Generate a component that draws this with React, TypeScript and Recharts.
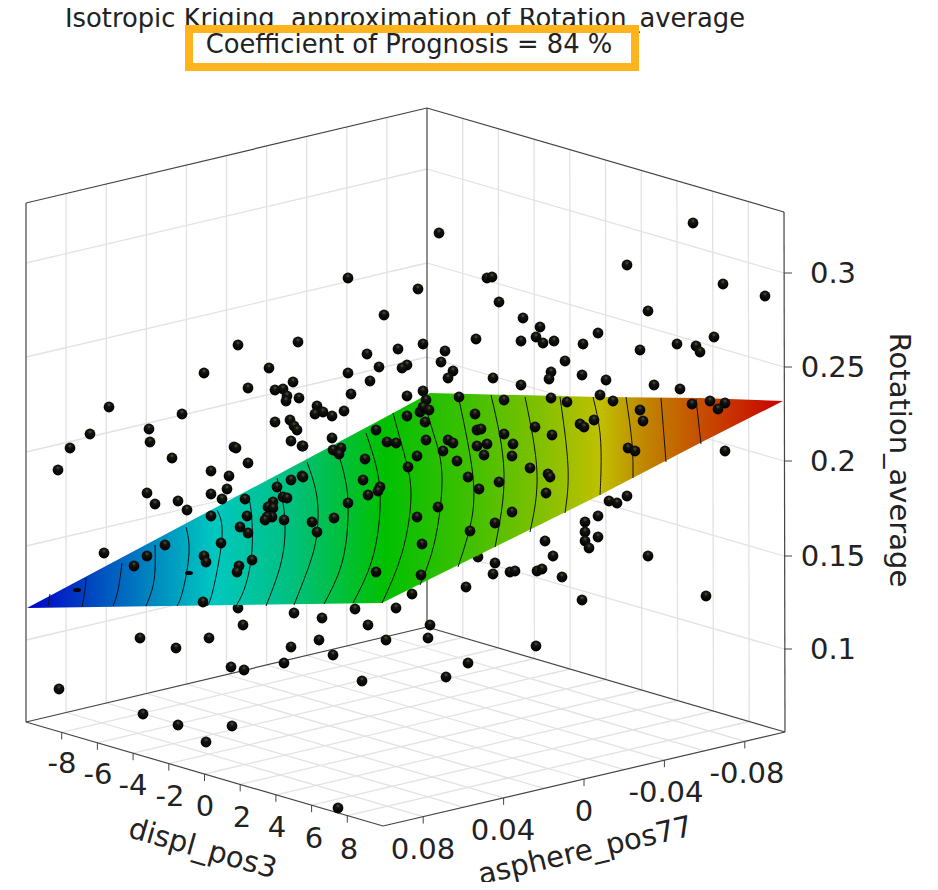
import React from 'react';
import {
  ComposedChart,
  Area,
  Line,
  Scatter,
  XAxis,
  YAxis,
  ReferenceLine,
  ReferenceArea,
} from 'recharts';

type Pt = [number, number];

const displTicks = ['-8', '-6', '-4', '-2', '0', '2', '4', '6', '8'];
const displLabelPos: Pt[] = [[62, 763], [98, 774], [133, 785], [170, 796], [205, 806], [242, 817], [277, 827], [314, 838], [349, 849]];
const asphereTicks = ['0.08', '0.04', '0', '-0.04', '-0.08'];
const asphereLabelPos: Pt[] = [[423, 849], [503, 830], [584, 811], [666, 792], [747, 773]];
const rotationTicks = ['0.3', '0.25', '0.2', '0.15', '0.1'];
const rotationTickY = [273, 367, 461, 556, 649];
const rotationLeftY = [263, 357, 452, 546, 640];
const rotationBackY = [169, 263, 357, 452, 546];

const gridFractions = [0.1, 0.2, 0.3, 0.4, 0.5, 0.6, 0.7, 0.8, 0.9];
const asphereTickFractions = [0.1, 0.3, 0.5, 0.7, 0.9];

// box corners
const leftTop: Pt = [26, 203];
const backTop: Pt = [427, 108];
const rightTop: Pt = [784, 212];
const leftBottom: Pt = [26, 722];
const backBottom: Pt = [427, 627];
const rightBottom: Pt = [785, 732];
const frontBottom: Pt = [383, 826];

const surfaceX = [27, 382, 430, 600, 700, 783];
const surfaceUpper = [608, 419, 393, 397, 398, 401];
const surfaceLower = [608, 603, 579, 495, 443, 401];

const surfaceStopX = [27, 100, 160, 215, 290, 385, 470, 540, 600, 650, 715, 783];
const surfaceStopColor = ['#0000c8', '#0050c0', '#0090c0', '#00c8c0', '#00c080', '#00c000', '#40c000', '#80c000', '#c0c000', '#c08000', '#c84000', '#c80000'];

const contours: Pt[][] = [
  [[48, 606], [50, 594]],
  [[82, 607], [85, 590], [86, 578]],
  [[113, 606], [118, 590], [122, 563]],
  [[146, 606], [152, 590], [155, 570], [155, 545]],
  [[177, 606], [183, 590], [189, 553], [186, 527]],
  [[207, 606], [213, 590], [222, 537], [217, 510]],
  [[236, 606], [245, 587], [252, 550], [251, 510], [248, 498]],
  [[266, 606], [280, 567], [285, 533], [283, 503], [277, 478]],
  [[294, 605], [310, 563], [317, 533], [317, 497], [307, 462]],
  [[324, 604], [342, 563], [348, 517], [346, 483], [338, 452]],
  [[353, 603], [372, 560], [380, 510], [377, 470], [366, 433]],
  [[382, 603], [402, 553], [411, 497], [405, 457], [393, 413]],
  [[420, 585], [435, 540], [442, 477], [434, 435], [422, 395]],
  [[458, 567], [470, 527], [473, 477], [458, 395]],
  [[495, 547], [504, 473], [491, 395]],
  [[530, 532], [537, 473], [525, 397]],
  [[565, 513], [568, 467], [560, 397]],
  [[600, 495], [601, 470], [600, 433], [593, 397]],
  [[633, 478], [632, 443], [626, 397]],
  [[666, 462], [661, 398]],
  [[701, 444], [696, 399]],
];

const pointsBehind: Pt[] = [[238, 608], [478, 557]];
const pointsPeek: Pt[] = [[77, 590], [189, 573]];
const points: Pt[] = [
  [439, 233], [348, 278], [418, 289], [693, 223], [627, 265], [487, 278], [492, 277], [723, 284], [765, 296], [499, 302],
  [238, 345], [298, 342], [204, 373], [269, 368], [248, 388], [293, 382], [275, 390], [283, 389], [287, 396], [286, 401],
  [299, 398], [109, 407], [182, 414], [90, 434], [149, 429], [150, 442], [70, 448], [275, 422], [290, 420], [294, 426],
  [297, 430], [291, 441], [302, 446], [234, 447], [236, 448], [248, 463], [58, 470], [172, 458], [211, 471], [229, 476],
  [147, 493], [155, 504], [178, 501], [187, 510], [211, 494], [227, 489], [222, 499], [211, 516], [245, 499], [247, 516],
  [240, 527], [248, 533], [277, 487], [291, 480], [302, 476], [283, 497], [287, 498], [273, 502], [268, 507], [273, 508],
  [272, 517], [267, 517], [265, 520], [284, 520], [221, 543], [165, 545], [147, 556], [134, 566], [104, 553], [204, 556],
  [206, 562], [252, 560], [239, 566], [237, 572], [203, 602],
  [384, 315], [523, 318], [540, 327], [536, 337], [543, 343], [521, 341], [554, 341], [476, 339], [598, 333], [583, 344],
  [423, 344], [398, 349], [445, 351], [367, 354], [441, 362], [565, 361], [379, 367], [407, 365], [402, 368], [453, 371],
  [448, 378], [348, 373], [551, 372], [549, 379], [582, 375], [493, 378], [370, 381], [521, 385], [351, 394], [423, 391],
  [407, 396], [459, 397], [426, 400], [504, 400], [551, 398], [567, 402], [600, 395], [317, 406], [315, 414], [323, 412],
  [332, 416], [344, 411], [420, 412], [423, 407], [429, 410], [407, 416], [475, 414], [425, 422], [376, 430], [477, 430],
  [481, 429], [535, 427], [504, 434], [552, 435], [580, 424], [584, 427], [594, 420], [332, 438], [303, 446], [387, 442],
  [396, 443], [426, 440], [448, 440], [453, 443], [477, 446], [487, 444], [513, 444], [333, 450], [341, 448], [339, 454],
  [443, 451], [484, 455], [512, 456], [365, 459], [417, 456], [457, 461], [408, 467], [530, 468], [548, 474], [550, 477],
  [303, 477], [363, 480], [468, 477], [499, 482], [380, 487], [378, 491], [368, 495], [479, 489], [546, 493], [348, 503],
  [438, 507], [417, 517], [512, 512], [334, 518], [312, 522], [317, 532], [495, 523], [470, 531], [585, 522], [598, 516],
  [585, 532], [598, 537], [585, 541], [589, 548], [545, 541], [422, 544], [553, 556], [495, 563], [493, 574], [510, 572],
  [515, 571], [537, 571], [542, 569], [562, 577], [376, 572], [421, 575], [466, 587], [412, 594], [582, 600],
  [648, 311], [714, 337], [677, 344], [696, 346], [700, 352], [640, 350], [606, 380], [654, 385], [680, 389], [613, 401],
  [640, 410], [643, 421], [692, 404], [710, 401], [725, 403], [718, 409], [628, 448], [635, 451], [725, 451], [627, 496],
  [609, 501], [617, 503], [648, 556], [706, 596],
  [294, 613], [322, 618], [355, 609], [396, 608], [243, 625], [368, 625], [140, 638], [176, 648], [209, 638], [319, 640],
  [386, 640], [291, 647], [430, 625], [428, 638], [468, 663], [446, 677], [333, 655], [284, 663], [244, 670], [231, 667],
  [362, 681], [59, 689], [143, 714], [178, 725], [232, 726], [206, 742], [338, 808], [536, 646],
];

const FONT = '"DejaVu Sans", sans-serif';
const TEXT = '#222';
const FRAME = '#444';
const GRID = '#e2e2e2';

const lerp = (a: Pt, b: Pt, t: number): Pt => [a[0] + (b[0] - a[0]) * t, a[1] + (b[1] - a[1]) * t];
const toXY = (p: Pt[]) => p.map(([x, y]) => ({ x, y }));

const surfaceData = surfaceX.map((x, i) => ({ x, band: [surfaceUpper[i], surfaceLower[i]] }));

const gridSegments: Pt[][] = [
  ...gridFractions.map((t) => [lerp(leftTop, backTop, t), lerp(leftBottom, backBottom, t)]),
  ...gridFractions.map((t) => [lerp(backTop, rightTop, t), lerp(backBottom, rightBottom, t)]),
  ...gridFractions.map((t) => [lerp(leftBottom, frontBottom, t), lerp(backBottom, rightBottom, t)]),
  ...gridFractions.map((t) => [lerp(leftBottom, backBottom, t), lerp(frontBottom, rightBottom, t)]),
  ...rotationTickY.map((y, i): Pt[] => [[leftTop[0], rotationLeftY[i]], [backTop[0], rotationBackY[i]]]),
  ...rotationTickY.map((y, i): Pt[] => [[backTop[0], rotationBackY[i]], [rightTop[0], y]]),
];

const frameSegments: Pt[][] = [
  [leftTop, leftBottom],
  [leftTop, backTop],
  [backTop, backBottom],
  [backTop, rightTop],
  [rightTop, rightBottom],
  [leftBottom, backBottom],
  [backBottom, rightBottom],
  [leftBottom, frontBottom],
  [frontBottom, rightBottom],
];

const tickSegments: Pt[][] = [
  ...gridFractions.map((t) => {
    const p = lerp(leftBottom, frontBottom, t);
    return [p, [p[0], p[1] + 7] as Pt];
  }),
  ...asphereTickFractions.map((t) => {
    const p = lerp(frontBottom, rightBottom, t);
    return [p, [p[0], p[1] + 7] as Pt];
  }),
  ...rotationTickY.map((y): Pt[] => [[rightTop[0], y], [rightTop[0] + 8, y]]),
];

type TextRow = { x: number; y: number; text: string; size: number; angle?: number };

const textRows: TextRow[] = [
  ...displTicks.map((text, i) => ({ x: displLabelPos[i][0], y: displLabelPos[i][1], text, size: 29 })),
  ...asphereTicks.map((text, i) => ({ x: asphereLabelPos[i][0], y: asphereLabelPos[i][1], text, size: 29 })),
  ...rotationTicks.map((text, i) => ({ x: 833, y: rotationTickY[i], text, size: 29 })),
  { x: 203, y: 848, text: 'displ_pos3', size: 29, angle: 16 },
  { x: 585, y: 850, text: 'asphere_pos77', size: 29, angle: -13 },
  { x: 900, y: 460, text: 'Rotation_average', size: 29, angle: 90 },
];

const titleRow: TextRow[] = [{ x: 405, y: 18, text: 'Isotropic Kriging  approximation of Rotation_average', size: 25.8 }];
const subtitleRow: TextRow[] = [{ x: 409, y: 44, text: 'Coefficient of Prognosis = 84 %', size: 25.8 }];

const TextMark = (props: any) => {
  const { cx, cy, payload } = props;
  return (
    <text
      x={cx}
      y={cy}
      fill={TEXT}
      fontFamily={FONT}
      fontSize={payload.size}
      textAnchor="middle"
      dominantBaseline="central"
      style={{ whiteSpace: 'pre' }}
      transform={payload.angle ? `rotate(${payload.angle} ${cx} ${cy})` : undefined}
    >
      {payload.text}
    </text>
  );
};

const Ball = (props: any) => <circle cx={props.cx} cy={props.cy} r={5.4} fill="url(#ball)" />;

export default function App() {
  return (
    <div style={{ margin: -8, width: 938, height: 890 }}>
      <ComposedChart width={938} height={890} data={surfaceData} margin={{ top: 0, right: 0, bottom: 0, left: 0 }}>
        <defs>
          <linearGradient id="surfaceFill" x1="0" y1="0" x2="1" y2="0">
            {surfaceStopX.map((x, i) => (
              <stop key={x} offset={(x - 27) / 756} stopColor={surfaceStopColor[i]} />
            ))}
          </linearGradient>
          <radialGradient id="ball" cx="0.5" cy="0.3" r="0.65">
            <stop offset="0" stopColor="#55553f" />
            <stop offset="0.3" stopColor="#141410" />
            <stop offset="1" stopColor="#000" />
          </radialGradient>
        </defs>
        <XAxis type="number" dataKey="x" domain={[0, 938]} hide />
        <YAxis type="number" domain={[0, 890]} reversed hide />
        {gridSegments.map((s, i) => (
          <ReferenceLine key={`g${i}`} segment={toXY(s)} stroke={GRID} strokeWidth={1.3} ifOverflow="visible" zIndex={10} />
        ))}
        {frameSegments.map((s, i) => (
          <ReferenceLine key={`f${i}`} segment={toXY(s)} stroke={FRAME} strokeWidth={1.2} ifOverflow="visible" zIndex={20} />
        ))}
        {tickSegments.map((s, i) => (
          <ReferenceLine key={`t${i}`} segment={toXY(s)} stroke={FRAME} strokeWidth={1} ifOverflow="visible" zIndex={20} />
        ))}
        <Scatter data={toXY(pointsBehind)} dataKey="y" shape={Ball} isAnimationActive={false} zIndex={30} />
        <Area
          dataKey="band"
          type="linear"
          stroke="none"
          fill="url(#surfaceFill)"
          fillOpacity={1}
          dot={false}
          activeDot={false}
          isAnimationActive={false}
        />
        {contours.map((c, i) => (
          <Line
            key={`c${i}`}
            data={toXY(c)}
            dataKey="y"
            type="natural"
            stroke="#111"
            strokeWidth={1}
            dot={false}
            activeDot={false}
            isAnimationActive={false}
          />
        ))}
        <Scatter data={toXY(pointsPeek)} dataKey="y" isAnimationActive={false} shape={(p: any) => <ellipse cx={p.cx} cy={p.cy} rx={4} ry={2} fill="#000" />} />
        <Scatter data={toXY(points)} dataKey="y" shape={Ball} isAnimationActive={false} />
        <Scatter data={titleRow.map((r) => ({ ...r }))} dataKey="y" shape={TextMark} isAnimationActive={false} zIndex={700} />
        <ReferenceArea x1={189} x2={635} y1={29} y2={67} fill="#fff" fillOpacity={1} stroke="#ffb41e" strokeWidth={8} ifOverflow="visible" zIndex={710} />
        <Scatter data={subtitleRow.map((r) => ({ ...r }))} dataKey="y" shape={TextMark} isAnimationActive={false} zIndex={720} />
        <Scatter data={textRows} dataKey="y" shape={TextMark} isAnimationActive={false} zIndex={720} />
      </ComposedChart>
    </div>
  );
}
